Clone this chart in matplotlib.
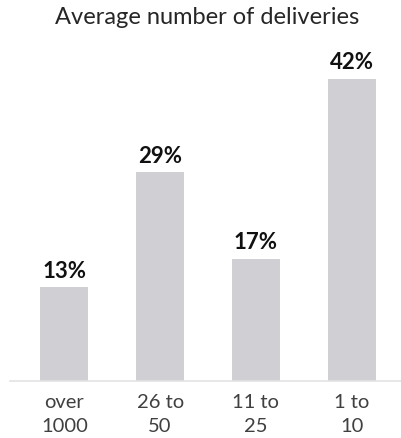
import matplotlib
matplotlib.use("Agg")
import matplotlib.pyplot as plt

# Share of respondents by average number of deliveries
categories = ["over\n1000", "26 to\n50", "11 to\n25", "1 to\n10"]
shares = [13, 29, 17, 42]
value_labels = ["13%", "29%", "17%", "42%"]
title = "Average number of deliveries"

plt.rcParams["font.family"] = ["Lato", "DejaVu Sans"]

W, H = 401, 439
fig = plt.figure(figsize=(W / 100, H / 100), dpi=100)
ax_left, ax_right = 10 / W, 1.0
ax_bottom = 57 / H
ax_top = (H - 58) / H
ax = fig.add_axes([ax_left, ax_bottom, ax_right - ax_left, ax_top - ax_bottom])

x = list(range(len(categories)))
ax.bar(x, shares, width=0.5, color="#cfcfd4", edgecolor="none", zorder=2)

for xi, v, lab in zip(x, shares, value_labels):
    ax.annotate(lab, (xi, v), xytext=(0, 4.5), textcoords="offset points",
                ha="center", va="bottom", fontsize=16, fontweight="bold",
                color="#111111")

ax.set_xlim(-0.567, 3.515)
ax.set_ylim(0, 45)
ax.set_xticks(x)
ax.set_xticklabels(categories, fontsize=14.5, color="#404040", linespacing=1.45)
ax.tick_params(axis="x", length=0, pad=9)
ax.set_yticks([])
for s in ["top", "right", "left"]:
    ax.spines[s].set_visible(False)
ax.spines["bottom"].set_color("#e3e3e6")
ax.spines["bottom"].set_linewidth(1.2)

fig.text(207 / W, 1 - 18 / H, title, ha="center", va="center",
         fontsize=17, color="#262626")

fig.savefig("out.png", dpi=100)
